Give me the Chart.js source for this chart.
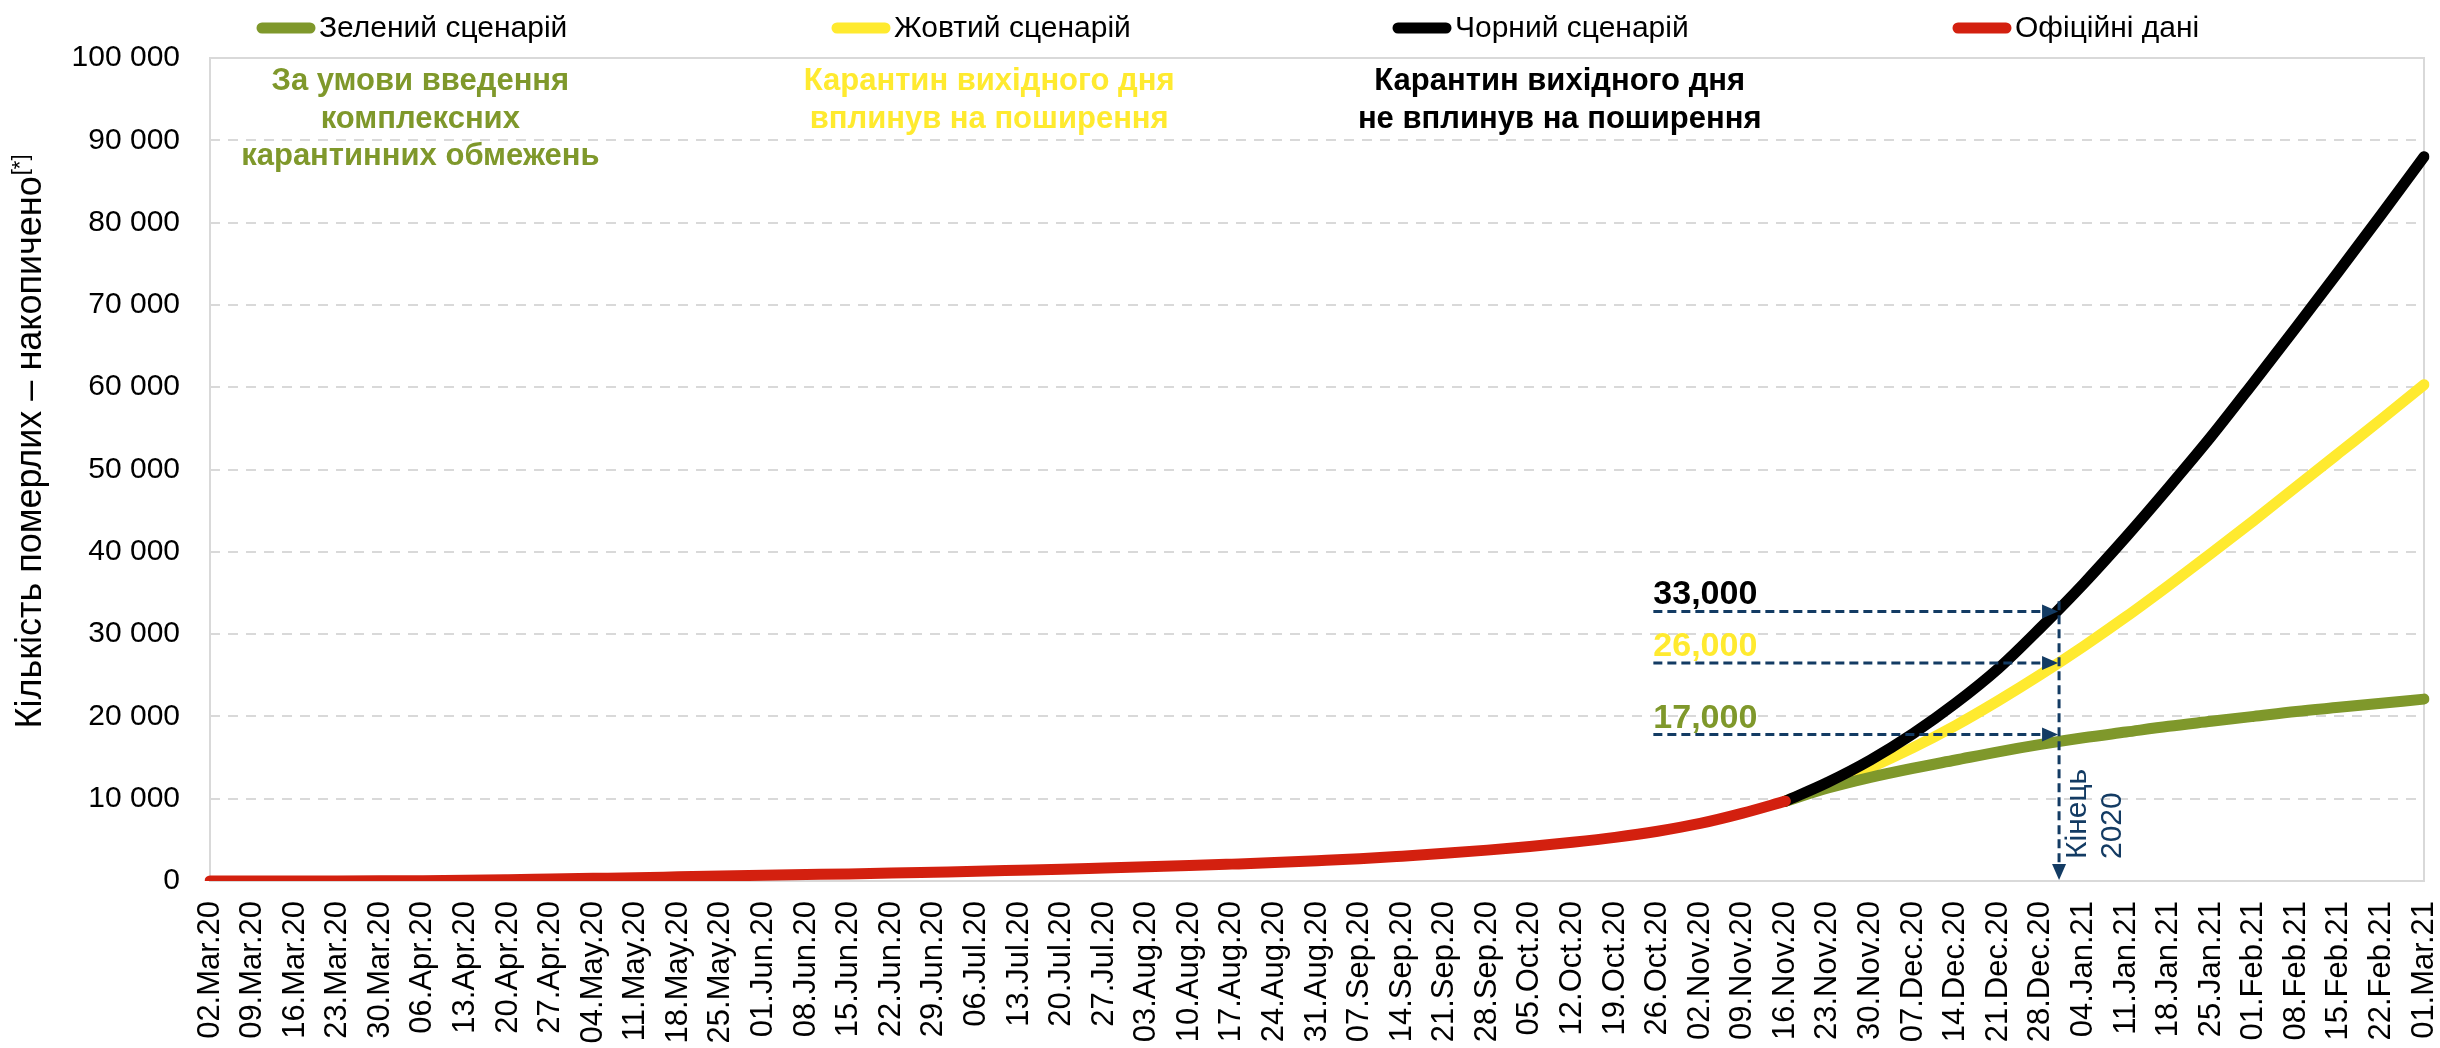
<!DOCTYPE html>
<html>
<head>
<meta charset="utf-8">
<script src="https://cdn.jsdelivr.net/npm/chart.js@4.4.1/dist/chart.umd.min.js"></script>
<style>
  html, body { margin: 0; padding: 0; background: #fff; }
</style>
</head>
<body>
<canvas id="deathsChart" width="2440" height="1048"></canvas>
<script>
// weekly tick labels (category axis)
const weeks = [
  '02.Mar.20','09.Mar.20','16.Mar.20','23.Mar.20','30.Mar.20','06.Apr.20','13.Apr.20','20.Apr.20','27.Apr.20',
  '04.May.20','11.May.20','18.May.20','25.May.20','01.Jun.20','08.Jun.20','15.Jun.20','22.Jun.20','29.Jun.20',
  '06.Jul.20','13.Jul.20','20.Jul.20','27.Jul.20','03.Aug.20','10.Aug.20','17.Aug.20','24.Aug.20','31.Aug.20',
  '07.Sep.20','14.Sep.20','21.Sep.20','28.Sep.20','05.Oct.20','12.Oct.20','19.Oct.20','26.Oct.20','02.Nov.20',
  '09.Nov.20','16.Nov.20','23.Nov.20','30.Nov.20','07.Dec.20','14.Dec.20','21.Dec.20','28.Dec.20','04.Jan.21',
  '11.Jan.21','18.Jan.21','25.Jan.21','01.Feb.21','08.Feb.21','15.Feb.21','22.Feb.21','01.Mar.21'
];

// official cumulative deaths, 02.Mar.20 .. 16.Nov.20
const officialData = [
  0, 0, 2, 5, 18, 40, 90, 160, 240, 320, 400, 510, 620, 700, 780, 860, 960, 1070, 1180,
  1310, 1440, 1580, 1720, 1870, 2050, 2240, 2460, 2700, 3020, 3370, 3750, 4180, 4700,
  5300, 6050, 7000, 8250, 9700
];

// scenarios, 16.Nov.20 .. 01.Mar.21
const scenarioStart = '16.Nov.20';
const greenScenario  = [9700, 11300, 12600, 13700, 14700, 15700, 16600, 17400, 18100, 18800, 19400, 20000, 20600, 21100, 21600, 22100];
const yellowScenario = [9700, 11700, 13800, 16200, 18900, 21900, 25100, 28500, 32100, 35900, 39800, 43800, 47900, 52000, 56100, 60300];
const blackScenario  = [9700, 12000, 14700, 17900, 21600, 25800, 30800, 36100, 41800, 47800, 54000, 60600, 67300, 74100, 81000, 88000];

const seriesNames = ['Зелений сценарій', 'Жовтий сценарій', 'Чорний сценарій', 'Офіційні дані'];
const yTicks = [0, 10000, 20000, 30000, 40000, 50000, 60000, 70000, 80000, 90000, 100000];

// end-of-2020 markers
const endLabels = ['33,000', '26,000', '17,000'];
const endValues = [32760, 26500, 17800];

const GREEN = '#7f982b', YELLOW = '#ffea2f', BLACK = '#000000', RED = '#d3200f', NAVY = '#133b63';
const FONT = '"Liberation Sans", Arial, sans-serif';

const startIdx = weeks.indexOf(scenarioStart);
const pad = n => Array(n).fill(null);
const endOf2020 = weeks.indexOf('28.Dec.20') + 3 / 7;
const fmt = v => String(v).replace(/\B(?=(\d{3})+(?!\d))/g, ' ');

const lineStyle = color => ({
  borderColor: color,
  backgroundColor: color,
  borderWidth: 11,
  borderCapStyle: 'round',
  borderJoinStyle: 'round',
  pointRadius: 0,
  cubicInterpolationMode: 'monotone',
  fill: false
});

// legend across the top
const topLegend = {
  id: 'topLegend',
  afterDraw(chart) {
    const { ctx } = chart;
    const starts = [257, 832, 1393, 1953];
    ctx.save();
    ctx.font = '30px ' + FONT;
    ctx.textBaseline = 'middle';
    chart.data.datasets.forEach((ds, i) => {
      const x = starts[i], y = 28;
      ctx.strokeStyle = ds.borderColor;
      ctx.lineWidth = 11;
      ctx.lineCap = 'round';
      ctx.beginPath();
      ctx.moveTo(x + 5, y);
      ctx.lineTo(x + 53, y);
      ctx.stroke();
      ctx.fillStyle = '#000';
      ctx.fillText(ds.label, x + 62, y + 1);
    });
    ctx.restore();
  }
};

// plot frame + y title
const frame = {
  id: 'frame',
  beforeDatasetsDraw(chart) {
    const { ctx, chartArea: a } = chart;
    ctx.save();
    ctx.strokeStyle = '#d9d9d9';
    ctx.lineWidth = 2;
    ctx.strokeRect(a.left, a.top, a.right - a.left, a.bottom - a.top);
    ctx.restore();
  },
  afterDraw(chart) {
    const { ctx } = chart;
    const main = 'Кількість померлих – накопичено';
    ctx.save();
    ctx.fillStyle = '#000';
    ctx.font = '36px ' + FONT;
    const w1 = ctx.measureText(main).width;
    ctx.font = '22px ' + FONT;
    const w2 = ctx.measureText('[*]').width;
    ctx.translate(41, 442);
    ctx.rotate(-Math.PI / 2);
    ctx.textBaseline = 'alphabetic';
    const x0 = -(w1 + w2) / 2;
    ctx.font = '36px ' + FONT;
    ctx.fillText(main, x0, 0);
    ctx.font = '22px ' + FONT;
    ctx.fillText('[*]', x0 + w1 + 1, -14);
    ctx.restore();
  }
};

// scenario captions, end-of-2020 arrows
const annotations = {
  id: 'annotations',
  afterDatasetsDraw(chart) {
    const { ctx, scales: { x, y } } = chart;
    ctx.save();

    // captions above the lines
    ctx.textAlign = 'center';
    ctx.textBaseline = 'middle';
    ctx.font = 'bold 31px ' + FONT;
    const captions = [
      { color: GREEN, at: 4.94, lines: ['За умови введення', 'комплексних', 'карантинних обмежень'] },
      { color: YELLOW, at: 18.3, lines: ['Карантин вихідного дня', 'вплинув на поширення'] },
      { color: BLACK, at: 31.7, lines: ['Карантин вихідного дня', 'не вплинув на поширення'] }
    ];
    const rowVals = [97150, 92500, 88050];
    captions.forEach(c => {
      ctx.fillStyle = c.color;
      c.lines.forEach((t, k) => ctx.fillText(t, x.getPixelForValue(c.at), y.getPixelForValue(rowVals[k])));
    });

    // vertical dashed line at end of 2020
    const vx = x.getPixelForValue(endOf2020);
    const top = y.getPixelForValue(34000);
    const bottom = y.getPixelForValue(0);
    ctx.strokeStyle = NAVY;
    ctx.fillStyle = NAVY;
    ctx.lineWidth = 3;
    ctx.setLineDash([9, 5]);
    ctx.beginPath();
    ctx.moveTo(vx, top);
    ctx.lineTo(vx, bottom - 14);
    ctx.stroke();
    ctx.setLineDash([]);
    ctx.beginPath();
    ctx.moveTo(vx, bottom - 1);
    ctx.lineTo(vx - 7, bottom - 17);
    ctx.lineTo(vx + 7, bottom - 17);
    ctx.closePath();
    ctx.fill();

    // horizontal arrows with values
    const ax = x.getPixelForValue(33.9);
    const labelColors = [BLACK, YELLOW, GREEN];
    endValues.forEach((v, i) => {
      const py = y.getPixelForValue(v);
      ctx.strokeStyle = NAVY;
      ctx.fillStyle = NAVY;
      ctx.lineWidth = 3;
      ctx.setLineDash([9, 5]);
      ctx.beginPath();
      ctx.moveTo(ax, py);
      ctx.lineTo(vx - 14, py);
      ctx.stroke();
      ctx.setLineDash([]);
      ctx.beginPath();
      ctx.moveTo(vx - 1, py);
      ctx.lineTo(vx - 17, py - 7);
      ctx.lineTo(vx - 17, py + 7);
      ctx.closePath();
      ctx.fill();

      ctx.fillStyle = labelColors[i];
      ctx.font = 'bold 34px ' + FONT;
      ctx.textAlign = 'left';
      ctx.textBaseline = 'alphabetic';
      ctx.fillText(endLabels[i], ax, py - 7);
    });

    // "Кінець 2020"
    ctx.fillStyle = NAVY;
    ctx.font = '30px ' + FONT;
    ctx.textAlign = 'left';
    ctx.textBaseline = 'middle';
    const ty = y.getPixelForValue(0) - 22;
    [['Кінець', 19], ['2020', 54]].forEach(([t, dx]) => {
      ctx.save();
      ctx.translate(vx + dx, ty);
      ctx.rotate(-Math.PI / 2);
      ctx.fillText(t, 0, 0);
      ctx.restore();
    });

    ctx.restore();
  }
};

new Chart(document.getElementById('deathsChart'), {
  type: 'line',
  data: {
    labels: weeks,
    datasets: [
      { label: seriesNames[0], data: pad(startIdx).concat(greenScenario), order: 2, ...lineStyle(GREEN) },
      { label: seriesNames[1], data: pad(startIdx).concat(yellowScenario), order: 3, ...lineStyle(YELLOW) },
      { label: seriesNames[2], data: pad(startIdx).concat(blackScenario), order: 1, ...lineStyle(BLACK) },
      { label: seriesNames[3], data: officialData, order: 0, ...lineStyle(RED) }
    ]
  },
  options: {
    responsive: false,
    animation: false,
    layout: { padding: { top: 58, right: 16, bottom: 0, left: 0 } },
    plugins: { legend: { display: false }, tooltip: { enabled: false } },
    scales: {
      x: {
        offset: false,
        grid: { display: false },
        border: { display: false },
        ticks: {
          autoSkip: false, minRotation: 90, maxRotation: 90, padding: 12,
          color: '#000', font: { family: FONT, size: 31 }
        },
        afterFit: s => { s.height = 167; s.paddingLeft = 0; s.paddingRight = 0; }
      },
      y: {
        min: 0, max: 100000,
        afterBuildTicks: s => { s.ticks = yTicks.map(v => ({ value: v })); },
        grid: { color: '#d9d9d9', lineWidth: 2, drawTicks: false },
        border: { display: false, dash: [10, 8] },
        ticks: {
          padding: 30, color: '#000', font: { family: FONT, size: 30 },
          callback: v => fmt(v)
        },
        afterFit: s => { s.width = 210; }
      }
    }
  },
  plugins: [topLegend, frame, annotations]
});
</script>
</body>
</html>
